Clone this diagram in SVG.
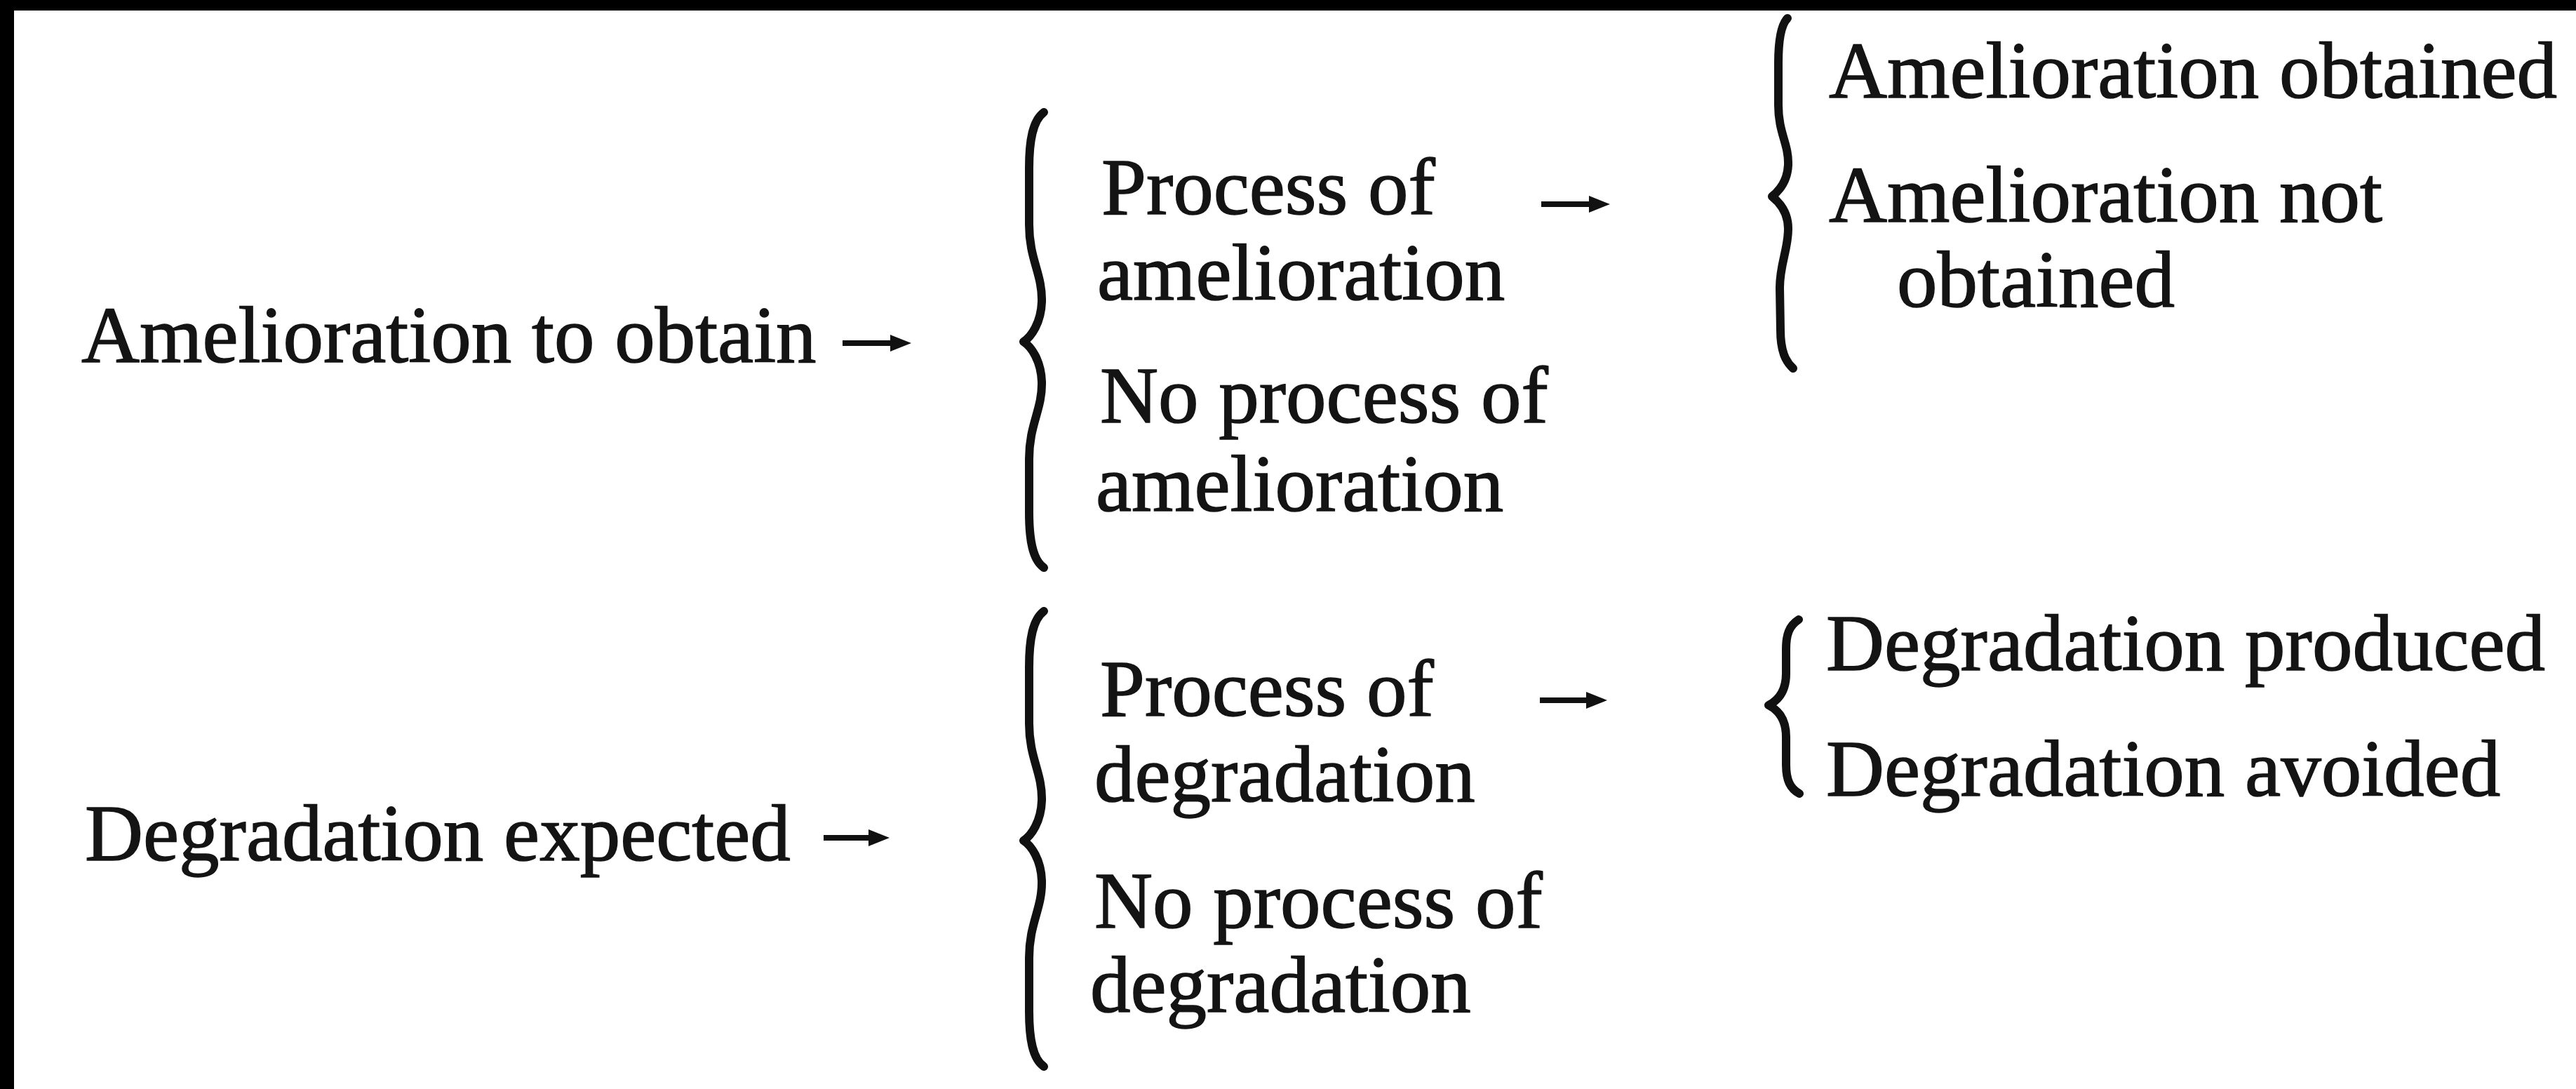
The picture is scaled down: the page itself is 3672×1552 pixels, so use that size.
<svg xmlns="http://www.w3.org/2000/svg" width="3672" height="1552" viewBox="0 0 3672 1552">
<defs>
<style>
text { font-family: "Liberation Serif", "Times New Roman", serif; font-size: 115px; fill: #141414; stroke: #141414; stroke-width: 1.5px; }
.brace { fill: none; stroke: #111; stroke-width: 12; stroke-linecap: round; stroke-linejoin: round; }
.arrow { fill: none; stroke: #111; stroke-width: 8; }
</style>
<marker id="head" markerUnits="userSpaceOnUse" viewBox="0 0 30 24" markerWidth="30" markerHeight="24" refX="5" refY="12" orient="auto">
<path d="M0,0 L30,12 L0,24 Z" fill="#111"/>
</marker>
</defs>
<rect x="0" y="0" width="3672" height="1552" fill="#ffffff"/>
<rect x="0" y="0" width="3672" height="15" fill="#000"/>
<rect x="0" y="0" width="20" height="1552" fill="#000"/>

<g id="n-amelioration-to-obtain"><text x="116" y="516">Amelioration to obtain</text></g>
<g id="n-process-of-amelioration"><text x="1570" y="305">Process of</text><text x="1564" y="427">amelioration</text></g>
<g id="n-no-process-of-amelioration"><text x="1568" y="602">No process of</text><text x="1562" y="728">amelioration</text></g>
<g id="n-amelioration-obtained"><text x="2607" y="139">Amelioration obtained</text></g>
<g id="n-amelioration-not-obtained"><text x="2607" y="316">Amelioration not</text><text x="2704" y="437">obtained</text></g>

<g id="n-degradation-expected"><text x="121" y="1226">Degradation expected</text></g>
<g id="n-process-of-degradation"><text x="1568" y="1020">Process of</text><text x="1560" y="1142">degradation</text></g>
<g id="n-no-process-of-degradation"><text x="1560" y="1322">No process of</text><text x="1554" y="1442">degradation</text></g>
<g id="n-degradation-produced"><text x="2603" y="955">Degradation produced</text></g>
<g id="n-degradation-avoided"><text x="2603" y="1134">Degradation avoided</text></g>

<g id="connectors">
<line class="arrow" x1="1201" y1="489" x2="1274" y2="489" marker-end="url(#head)"/>
<line class="arrow" x1="2197" y1="291" x2="2270" y2="291" marker-end="url(#head)"/>
<line class="arrow" x1="1174" y1="1194" x2="1243" y2="1194" marker-end="url(#head)"/>
<line class="arrow" x1="2195" y1="998" x2="2266" y2="998" marker-end="url(#head)"/>
<path class="brace" d="M 1488 160 C 1472 172, 1467 200, 1467 240 L 1467 320 C 1467 370, 1486 390, 1485 430 C 1484 460, 1470 480, 1459 487 C 1470 494, 1484 514, 1485 544 C 1486 584, 1467 604, 1467 654 L 1467 730 C 1467 770, 1472 798, 1488 809"/>
<path class="brace" d="M 1488 160 C 1472 172, 1467 200, 1467 240 L 1467 320 C 1467 370, 1486 390, 1485 430 C 1484 460, 1470 480, 1459 487 C 1470 494, 1484 514, 1485 544 C 1486 584, 1467 604, 1467 654 L 1467 730 C 1467 770, 1472 798, 1488 809" transform="translate(0,711)"/>
<path class="brace" d="M 2548 26 C 2538 36, 2535 60, 2535 90 L 2535 150 C 2535 190, 2550 205, 2549 235 C 2548 258, 2536 272, 2526 280 C 2536 288, 2549 302, 2549 326 C 2549 356, 2537 376, 2537 410 L 2538 470 C 2538 500, 2545 515, 2556 525"/>
<path class="brace" d="M 2564 883 C 2550 892, 2546 905, 2546 925 L 2546 960 C 2546 985, 2535 998, 2521 1005 C 2535 1012, 2546 1025, 2546 1050 L 2546 1090 C 2546 1112, 2552 1124, 2565 1131"/>
</g>
</svg>
